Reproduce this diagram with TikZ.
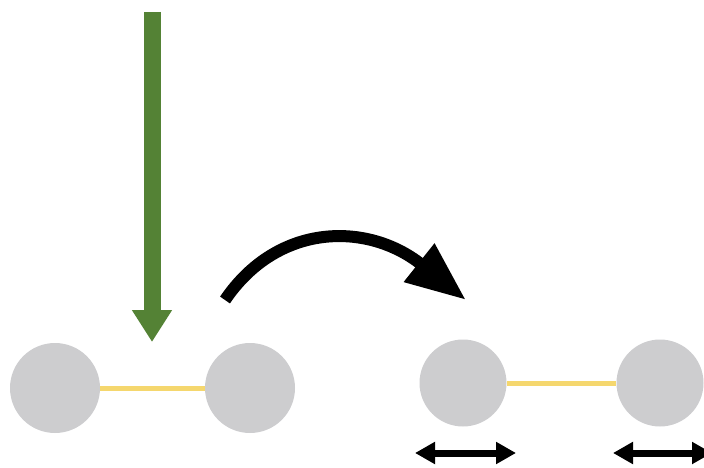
\documentclass[tikz,border=0pt]{standalone}
\usetikzlibrary{arrows.meta}
\definecolor{ballgray}{RGB}{205,205,207}
\definecolor{bondyellow}{RGB}{245,215,110}
\definecolor{forcegreen}{RGB}{84,130,53}
\begin{document}
\begin{tikzpicture}[x=1pt,y=-1pt,
  ball/.style={circle,fill=ballgray,minimum size=90pt,inner sep=0pt},
  ballb/.style={circle,fill=ballgray,minimum size=87pt,inner sep=0pt},
  bond/.style={bondyellow,line width=5pt},
  force/.style={forcegreen,line width=17pt,-{Triangle[length=32pt,width=38pt]}},
  turn/.style={black,line width=12pt,-{Triangle[length=60pt,width=46pt]}},
  vib/.style={black,line width=7pt,{Triangle[length=20pt,width=21pt]}-{Triangle[length=20pt,width=21pt]}}]
\useasboundingbox (0,0) rectangle (704,468);
% left molecule
\node[ball] (a1) at (55,388) {};
\node[ball] (a2) at (250,388) {};
\draw[bond] (a1) -- (a2);
% green force arrow
\coordinate (gs) at (152,12);
\coordinate (ge) at (152,342);
\draw[force] (gs) -- (ge);
% curved arrow
\coordinate (cs) at (225,300);
\coordinate (ce) at (466,300);
\draw[turn] (cs) .. controls (278,222) and (368,222) .. (ce);
% right molecule
\node[ballb] (b1) at (463,383) {};
\node[ballb] (b2) at (660,383) {};
\draw[bond] (b1) -- (b2);
% vibration arrows
\coordinate (v1s) at (415,453);
\coordinate (v1e) at (516,453);
\coordinate (v2s) at (613,453);
\coordinate (v2e) at (712,453);
\draw[vib] (v1s) -- (v1e);
\draw[vib] (v2s) -- (v2e);
\end{tikzpicture}
\end{document}
